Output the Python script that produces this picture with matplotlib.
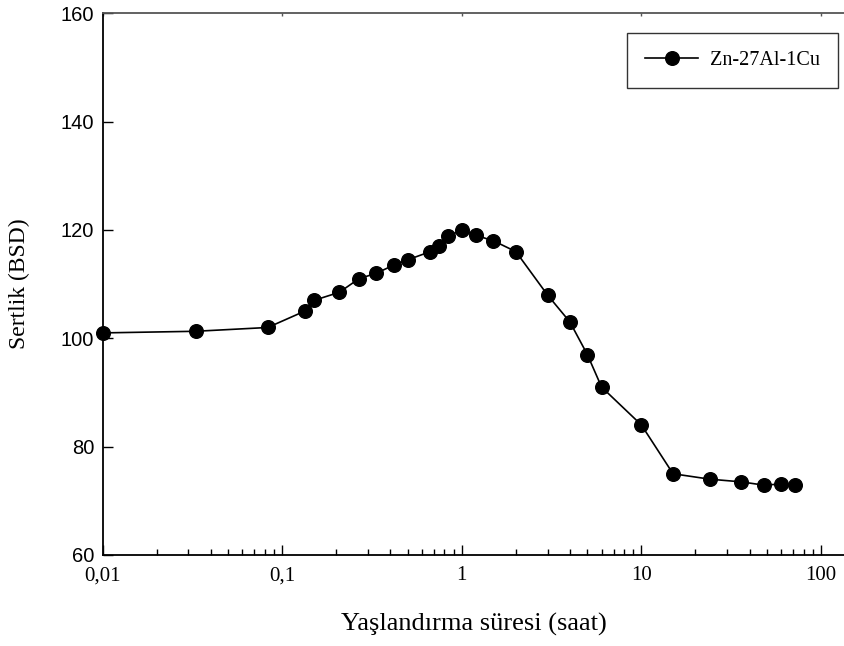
import matplotlib
matplotlib.use("Agg")
import matplotlib.pyplot as plt
from matplotlib.ticker import LogLocator, FixedLocator, FixedFormatter, NullFormatter, NullLocator

# Data
time_h = [0.01, 0.033, 0.083, 0.133, 0.15, 0.208, 0.267, 0.333, 0.417, 0.5,
          0.667, 0.75, 0.833, 1.0, 1.2, 1.5, 2.0, 3.0, 4.0, 5.0, 6.0, 10.0,
          15.0, 24.0, 36.0, 48.0, 60.0, 72.0]
hardness = [101.0, 101.3, 102.0, 105.0, 107.0, 108.5, 111.0, 112.0, 113.5, 114.5,
            116.0, 117.0, 118.8, 120.0, 119.0, 118.0, 116.0, 108.0, 103.0, 97.0, 91.0, 84.0,
            75.0, 74.0, 73.5, 72.9, 73.1, 72.9]
series_name = "Zn-27Al-1Cu"
xticks = [0.01, 0.1, 1, 10, 100]
xtick_labels = ["0,01", "0,1", "1", "10", "100"]
yticks = [60, 80, 100, 120, 140, 160]
xlabel = "Yaşlandırma süresi (saat)"
ylabel = "Sertlik (BSD)"

serif = "Liberation Serif"
sans = "Liberation Sans"

fig = plt.figure(figsize=(8.45, 6.46), dpi=100)
ax = fig.add_axes([102.7/845, (646-555)/646, (845-102.7)/845, (555-13.3)/646])

ax.plot(time_h, hardness, color="black", lw=1.2, marker="o", ms=9.8,
        markerfacecolor="black", markeredgecolor="black", label=series_name,
        clip_on=False, zorder=3)

ax.set_xscale("log")
ax.set_xlim(0.01, 10**(2 + (845-821)/179.5))
ax.set_ylim(60, 160)

ax.xaxis.set_major_locator(FixedLocator(xticks))
ax.xaxis.set_major_formatter(FixedFormatter(xtick_labels))
ax.xaxis.set_minor_locator(LogLocator(base=10, subs=range(2, 10), numticks=20))
ax.xaxis.set_minor_formatter(NullFormatter())
ax.set_yticks(yticks)

ax.tick_params(axis="x", which="major", direction="in", length=7, width=1,
               top=False, bottom=True, pad=8)
ax.tick_params(axis="x", which="minor", direction="in", length=4, width=1,
               top=False, bottom=True)
ax.tick_params(axis="y", which="major", direction="in", length=7, width=1,
               left=True, right=False, pad=6)
for lab in ax.get_xticklabels():
    lab.set_fontfamily(serif)
    lab.set_fontsize(15)
for lab in ax.get_yticklabels():
    lab.set_fontfamily(sans)
    lab.set_fontsize(14.5)

# tiny ticks on the top spine
top = ax.secondary_xaxis("top")
top.xaxis.set_major_locator(FixedLocator(xticks))
top.xaxis.set_minor_locator(NullLocator())
top.tick_params(axis="x", which="major", direction="in", length=2, width=1,
                labeltop=False, color="#555555")
top.spines["top"].set_visible(False)

ax.spines["right"].set_visible(False)
for s in ["left", "bottom"]:
    ax.spines[s].set_linewidth(1.3)
ax.spines["top"].set_linewidth(1.3)
ax.spines["top"].set_color("#555555")

ax.set_xlabel(xlabel, fontfamily=serif, fontsize=19, labelpad=20)
ax.set_ylabel(ylabel, fontfamily=serif, fontsize=17, labelpad=22)

leg = ax.legend(loc="upper right", bbox_to_anchor=((838-102.7)/742.3, 1 - (33-13.3)/541.7),
                borderaxespad=0, frameon=True, fancybox=False, edgecolor="black",
                prop={"family": serif, "size": 14.5}, handlelength=2.6,
                borderpad=0.9, handletextpad=0.6)
leg.get_frame().set_linewidth(1.0)

fig.savefig("out.png", dpi=100)
